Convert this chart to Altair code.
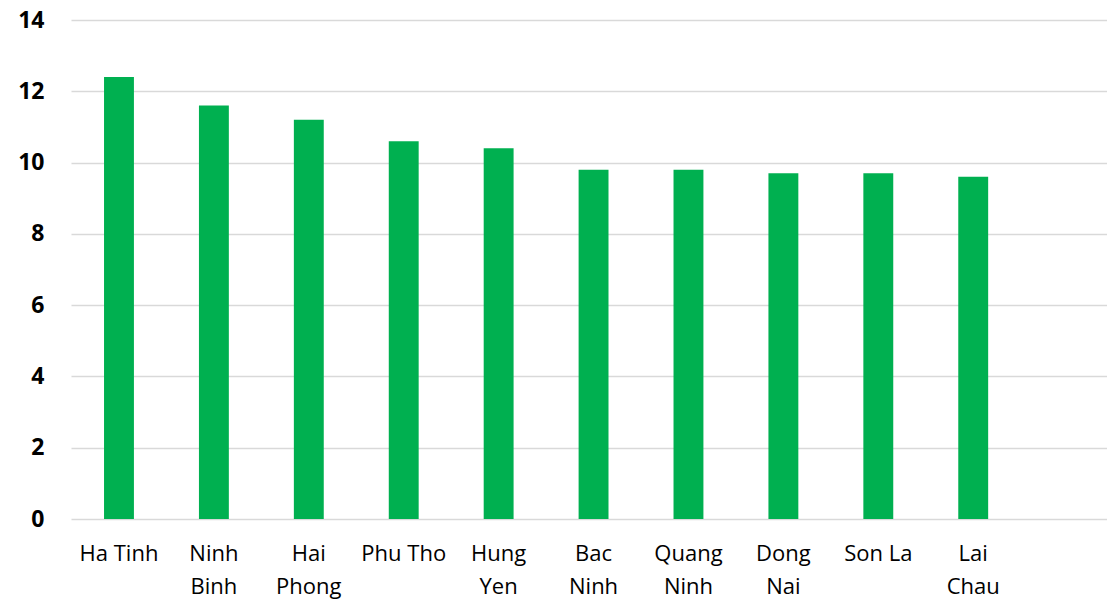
import altair as alt
import pandas as pd

# Provinces and their values, in ranked order
provinces = ["Ha Tinh", "Ninh Binh", "Hai Phong", "Phu Tho", "Hung Yen",
             "Bac Ninh", "Quang Ninh", "Dong Nai", "Son La", "Lai Chau"]
values = [12.4, 11.6, 11.2, 10.6, 10.4, 9.8, 9.8, 9.7, 9.7, 9.6]

# Names shown on one line; the rest are wrapped word by word
single_line = ["Ha Tinh", "Phu Tho", "Son La"]

# an extra empty slot keeps room on the right of the last bar
domain = provinces + [" "]

df = pd.DataFrame({"province": provinces, "value": values})

label_expr = (
    "indexof(" + str(single_line) + ", datum.value) >= 0 ? datum.value : split(datum.value, ' ')"
)

chart = (
    alt.Chart(df)
    .mark_bar(color="#00B050")
    .encode(
        x=alt.X(
            "province:N",
            sort=domain,
            scale=alt.Scale(domain=domain, paddingInner=0.685, paddingOuter=0.3, align=0.58),
            axis=alt.Axis(
                title=None,
                domain=False,
                ticks=False,
                grid=False,
                labelAngle=0,
                labelFont="Open Sans",
                labelFontSize=22,
                labelColor="#000000",
                labelPadding=24,
                labelLineHeight=33,
                labelExpr=label_expr,
            ),
        ),
        y=alt.Y(
            "value:Q",
            scale=alt.Scale(domain=[0, 14], nice=False),
            axis=alt.Axis(
                title=None,
                values=[0, 2, 4, 6, 8, 10, 12, 14],
                domain=False,
                ticks=False,
                grid=True,
                gridColor="#d9d9d9",
                gridWidth=1.5,
                labelFont="Open Sans",
                labelFontWeight="bold",
                labelFontSize=23,
                labelColor="#000000",
                labelPadding=27,
            ),
        ),
    )
    .properties(
        width=1036,
        height=499,
        background="white",
        padding={"left": 71, "top": 20, "right": 0, "bottom": 80},
        autosize=alt.AutoSizeParams(type="none"),
    )
    .configure_view(stroke="transparent", strokeWidth=0)
)

chart.save("out.html", embed_options={"renderer": "svg", "actions": False})
